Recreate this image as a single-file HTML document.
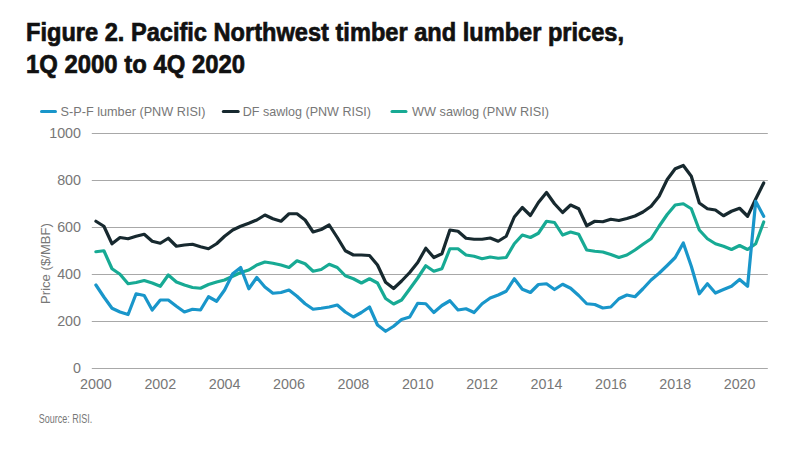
<!DOCTYPE html>
<html><head><meta charset="utf-8">
<style>
html,body{margin:0;padding:0;background:#fff;}
body{width:800px;height:449px;overflow:hidden;}
svg{display:block;}
.ax{font-family:"Liberation Sans",sans-serif;font-size:14.3px;fill:#777777;}
.lg{font-family:"Liberation Sans",sans-serif;font-size:13.5px;fill:#777777;}
.ti{font-family:"Liberation Sans",sans-serif;font-weight:bold;font-size:26px;fill:#111;stroke:#111;stroke-width:0.7px;}
.src{font-family:"Liberation Sans",sans-serif;font-size:13px;fill:#777777;}
</style></head><body>
<svg width="800" height="449" viewBox="0 0 800 449">
<text x="26" y="40.8" class="ti" textLength="598" lengthAdjust="spacingAndGlyphs">Figure 2. Pacific Northwest timber and lumber prices,</text>
<text x="26" y="72.8" class="ti" textLength="219" lengthAdjust="spacingAndGlyphs">1Q 2000 to 4Q 2020</text>
<line x1="41.5" x2="55.5" y1="111.4" y2="111.4" stroke="#1996ca" stroke-width="3" stroke-linecap="round"/>
<text x="60.6" y="116.3" class="lg" textLength="145" lengthAdjust="spacingAndGlyphs">S-P-F lumber (PNW RISI)</text>
<line x1="223.3" x2="238.2" y1="111.4" y2="111.4" stroke="#17292f" stroke-width="3" stroke-linecap="round"/>
<text x="242.8" y="116.3" class="lg" textLength="128.2" lengthAdjust="spacingAndGlyphs">DF sawlog (PNW RISI)</text>
<line x1="392" x2="406" y1="111.4" y2="111.4" stroke="#17aa94" stroke-width="3" stroke-linecap="round"/>
<text x="412" y="116.3" class="lg" textLength="137" lengthAdjust="spacingAndGlyphs">WW sawlog (PNW RISI)</text>
<line x1="91.8" x2="767.8" y1="133.5" y2="133.5" stroke="#a8a8a8" stroke-width="1.2"/>
<text x="81" y="138" text-anchor="end" class="ax">1000</text>
<line x1="91.8" x2="767.8" y1="180.5" y2="180.5" stroke="#a8a8a8" stroke-width="1.2"/>
<text x="81" y="185" text-anchor="end" class="ax">800</text>
<line x1="91.8" x2="767.8" y1="227.5" y2="227.5" stroke="#a8a8a8" stroke-width="1.2"/>
<text x="81" y="232" text-anchor="end" class="ax">600</text>
<line x1="91.8" x2="767.8" y1="274.5" y2="274.5" stroke="#a8a8a8" stroke-width="1.2"/>
<text x="81" y="279" text-anchor="end" class="ax">400</text>
<line x1="91.8" x2="767.8" y1="321.5" y2="321.5" stroke="#a8a8a8" stroke-width="1.2"/>
<text x="81" y="326" text-anchor="end" class="ax">200</text>
<line x1="91.8" x2="767.8" y1="368.5" y2="368.5" stroke="#a8a8a8" stroke-width="1.2"/>
<text x="81" y="373" text-anchor="end" class="ax">0</text>
<text x="95.9" y="389.2" text-anchor="middle" class="ax">2000</text>
<text x="160.3" y="389.2" text-anchor="middle" class="ax">2002</text>
<text x="224.6" y="389.2" text-anchor="middle" class="ax">2004</text>
<text x="289.0" y="389.2" text-anchor="middle" class="ax">2006</text>
<text x="353.4" y="389.2" text-anchor="middle" class="ax">2008</text>
<text x="417.8" y="389.2" text-anchor="middle" class="ax">2010</text>
<text x="482.1" y="389.2" text-anchor="middle" class="ax">2012</text>
<text x="546.5" y="389.2" text-anchor="middle" class="ax">2014</text>
<text x="610.9" y="389.2" text-anchor="middle" class="ax">2016</text>
<text x="675.2" y="389.2" text-anchor="middle" class="ax">2018</text>
<text x="739.6" y="389.2" text-anchor="middle" class="ax">2020</text>

<text transform="translate(49.8,304) rotate(-90)" class="lg" style="font-size:12px" textLength="81" lengthAdjust="spacingAndGlyphs">Price ($/MBF)</text>
<g fill="none" stroke-width="3.2" stroke-linejoin="round" stroke-linecap="round">
<path d="M95.9,221.25 L103.9,226.25 L112.0,243.75 L120.0,237.50 L128.1,238.75 L136.1,236.25 L144.2,234.25 L152.2,241.25 L160.3,243.25 L168.3,238.25 L176.4,246.25 L184.4,245.00 L192.5,244.25 L200.5,246.75 L208.5,248.75 L216.6,243.75 L224.6,236.25 L232.7,230.00 L240.7,226.25 L248.8,223.25 L256.8,220.00 L264.9,215.00 L272.9,218.75 L281.0,221.25 L289.0,213.75 L297.0,213.75 L305.1,220.00 L313.1,232.00 L321.2,229.50 L329.2,225.00 L337.3,237.50 L345.3,250.75 L353.4,255.00 L361.4,255.00 L369.5,255.50 L377.5,265.00 L385.6,282.25 L393.6,288.50 L401.6,281.00 L409.7,272.50 L417.7,262.50 L425.8,248.25 L433.8,257.50 L441.9,253.75 L449.9,230.00 L458.0,231.25 L466.0,238.25 L474.1,239.25 L482.1,239.25 L490.2,238.00 L498.2,241.25 L506.2,236.25 L514.3,217.00 L522.3,207.50 L530.4,215.50 L538.4,202.50 L546.5,192.50 L554.5,203.75 L562.6,212.50 L570.6,205.00 L578.7,208.75 L586.7,225.75 L594.8,221.25 L602.8,221.75 L610.8,219.25 L618.9,220.50 L626.9,218.50 L635.0,216.00 L643.0,212.00 L651.1,206.25 L659.1,196.25 L667.2,179.50 L675.2,168.75 L683.3,165.50 L691.3,176.25 L699.3,203.00 L707.4,208.75 L715.4,210.00 L723.5,215.75 L731.5,211.25 L739.6,208.25 L747.6,216.25 L755.7,199.00 L763.7,183.00" stroke="#17292f"/>
<path d="M95.9,251.75 L103.9,250.75 L112.0,268.75 L120.0,274.25 L128.1,283.75 L136.1,282.50 L144.2,280.50 L152.2,283.00 L160.3,286.25 L168.3,275.00 L176.4,282.00 L184.4,285.00 L192.5,287.50 L200.5,288.25 L208.5,284.50 L216.6,282.00 L224.6,280.00 L232.7,276.25 L240.7,272.50 L248.8,270.00 L256.8,265.00 L264.9,262.00 L272.9,263.25 L281.0,265.00 L289.0,267.50 L297.0,260.75 L305.1,263.75 L313.1,271.25 L321.2,269.50 L329.2,264.25 L337.3,267.50 L345.3,275.75 L353.4,278.75 L361.4,283.00 L369.5,278.75 L377.5,283.00 L385.6,298.50 L393.6,304.00 L401.6,300.00 L409.7,289.00 L417.7,278.00 L425.8,265.75 L433.8,271.25 L441.9,268.75 L449.9,248.75 L458.0,248.75 L466.0,255.00 L474.1,256.25 L482.1,258.75 L490.2,257.00 L498.2,258.25 L506.2,257.50 L514.3,243.75 L522.3,235.00 L530.4,237.50 L538.4,233.25 L546.5,221.25 L554.5,222.50 L562.6,235.00 L570.6,232.00 L578.7,234.25 L586.7,250.00 L594.8,251.25 L602.8,252.00 L610.8,254.50 L618.9,257.50 L626.9,255.00 L635.0,250.00 L643.0,244.25 L651.1,238.75 L659.1,226.25 L667.2,214.50 L675.2,205.00 L683.3,203.75 L691.3,208.75 L699.3,230.00 L707.4,238.75 L715.4,243.75 L723.5,246.25 L731.5,249.50 L739.6,245.50 L747.6,249.50 L755.7,243.75 L763.7,222.00" stroke="#17aa94"/>
<path d="M95.9,285.00 L103.9,297.00 L112.0,308.25 L120.0,312.00 L128.1,314.50 L136.1,293.75 L144.2,295.50 L152.2,310.00 L160.3,300.00 L168.3,300.00 L176.4,306.25 L184.4,312.00 L192.5,309.25 L200.5,310.00 L208.5,296.75 L216.6,301.25 L224.6,290.00 L232.7,273.75 L240.7,267.50 L248.8,288.75 L256.8,277.50 L264.9,287.00 L272.9,293.25 L281.0,292.50 L289.0,290.00 L297.0,296.25 L305.1,303.75 L313.1,309.25 L321.2,308.25 L329.2,307.00 L337.3,305.00 L345.3,312.00 L353.4,317.00 L361.4,312.50 L369.5,307.00 L377.5,325.00 L385.6,331.25 L393.6,326.25 L401.6,319.50 L409.7,317.00 L417.7,303.25 L425.8,303.75 L433.8,312.50 L441.9,305.50 L449.9,300.75 L458.0,310.00 L466.0,308.75 L474.1,312.50 L482.1,303.75 L490.2,298.00 L498.2,295.00 L506.2,291.25 L514.3,278.75 L522.3,289.25 L530.4,292.50 L538.4,284.50 L546.5,283.75 L554.5,289.50 L562.6,284.25 L570.6,288.25 L578.7,295.50 L586.7,303.75 L594.8,304.50 L602.8,308.00 L610.8,307.00 L618.9,298.75 L626.9,295.00 L635.0,296.75 L643.0,288.75 L651.1,280.00 L659.1,273.25 L667.2,265.50 L675.2,257.50 L683.3,243.00 L691.3,266.25 L699.3,293.75 L707.4,283.75 L715.4,293.00 L723.5,289.50 L731.5,286.25 L739.6,279.50 L747.6,286.25 L755.7,201.25 L763.7,216.25" stroke="#1996ca"/>
</g>
<text x="38.8" y="422.6" class="src" textLength="53.5" lengthAdjust="spacingAndGlyphs">Source: RISI.</text>
</svg>
</body></html>
